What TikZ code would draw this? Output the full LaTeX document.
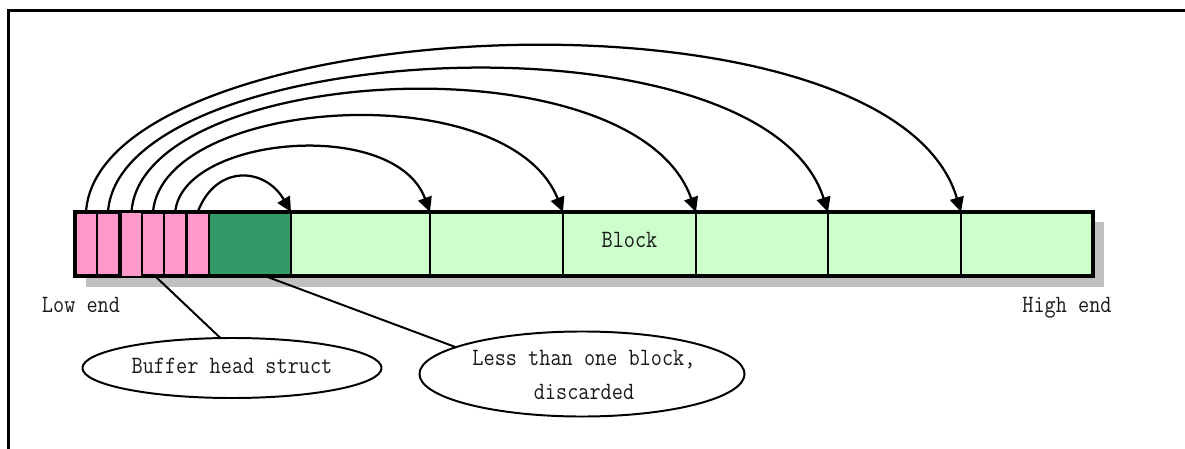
\documentclass[tikz,border=0pt]{standalone}
\usepackage{fontspec}
\usepackage{graphicx}
\usetikzlibrary{shapes.geometric,arrows.meta}
\definecolor{pinkc}{HTML}{FF99CC}
\definecolor{darkg}{HTML}{339966}
\definecolor{lightg}{HTML}{CCFFCC}
\definecolor{shadowc}{HTML}{C0C0C0}
\newcommand\stt[1]{\scalebox{1}[1.15]{#1}}
\begin{document}
\begin{tikzpicture}[x=0.025cm,y=-0.025cm,
  cell/.style={draw=black, line width=1.6pt, minimum height=1.6cm, inner sep=0pt, outer sep=0pt},
  pinkcell/.style={cell, fill=pinkc, minimum width=0.55cm},
  blockcell/.style={cell, fill=lightg},
  txt/.style={font=\ttfamily\fontsize{15.4}{19.7}\selectfont, text=black!90, inner sep=0pt},
  ell/.style={ellipse, draw=black, line width=1.4pt, inner sep=0pt, outer sep=0pt},
  arc/.style={line width=1.6pt, -{Triangle[length=10.5pt,width=10pt]}},
  conn/.style={line width=1.4pt}]
\useasboundingbox (0,0) rectangle (1185,448);
\clip (0,0) rectangle (1185,448);
% frame
\draw[line width=2pt] (8.5,10.5) rectangle (1300,600);
% shadow
\fill[shadowc] (86,222) rectangle (1104,287);
% cells
\node[pinkcell] (c1) at (86,244) {};
\node[pinkcell] (c2) at (108,244) {};
\node[pinkcell] (c4) at (153,244) {};
\node[pinkcell, minimum width=0.5625cm] (c5) at (175.25,244) {};
\node[pinkcell, minimum width=0.5625cm] (c6) at (197.75,244) {};
\node[cell, fill=darkg, minimum width=2.05cm] (g) at (250,244) {};
\node[blockcell, minimum width=3.475cm] (b1) at (360.5,244) {};
\node[blockcell, minimum width=3.325cm] (b2) at (496.5,244) {};
\node[blockcell, minimum width=3.325cm] (b3) at (629.5,244) {};
\node[blockcell, minimum width=3.3cm] (b4) at (762,244) {};
\node[blockcell, minimum width=3.325cm] (b5) at (894.5,244) {};
\node[blockcell, minimum width=3.3cm] (b6) at (1027,244) {};
\node[txt] (blk) at (629.5,240) {\stt{Block}};
\draw[line width=2.3pt] (c1.north west) rectangle (b6.south east);
\node[pinkcell, minimum width=0.525cm, minimum height=1.625cm] (c3) at (131.5,244.5) {};
% arcs
\draw[arc] (c6.north) .. controls +(18,-48) and +(-26,-45) .. (b1.north west);
\draw[arc] (c5.north) .. controls +(7,-76) and +(-35,-95) .. (b2.north west);
\draw[arc] (c4.north) .. controls +(10,-115) and +(-55,-138) .. (b3.north west);
\draw[arc] (c3.north) .. controls +(10,-147) and +(-62,-176) .. (b4.north west);
\draw[arc] (c2.north) .. controls +(12,-172) and +(-66,-207) .. (b5.north west);
\draw[arc] (c1.north) .. controls +(13,-200) and +(-71,-240) .. (b6.north west);
% labels
\node[txt, anchor=base] (low) at (81,312) {\stt{Low end}};
\node[txt, anchor=base] (high) at (1067,312) {\stt{High end}};
% ellipses
\node[ell, minimum width=7.475cm, minimum height=1.5cm] (bh) at (232,368) {};
\node[txt] (bht) at (232,366) {\stt{Buffer head struct}};
\node[ell, minimum width=8.125cm, minimum height=2.125cm] (ls) at (582,374) {};
\node[txt] (lst) at (584,376) {\stt{\begin{tabular}{@{}c@{}}Less than one block,\\[1.5pt] discarded\end{tabular}}};
% connectors
\draw[conn] ([xshift=0.05cm]c4.south) -- (bh.111);
\draw[conn] ([xshift=0.375cm]g.south) -- (ls.168);
\end{tikzpicture}
\end{document}
